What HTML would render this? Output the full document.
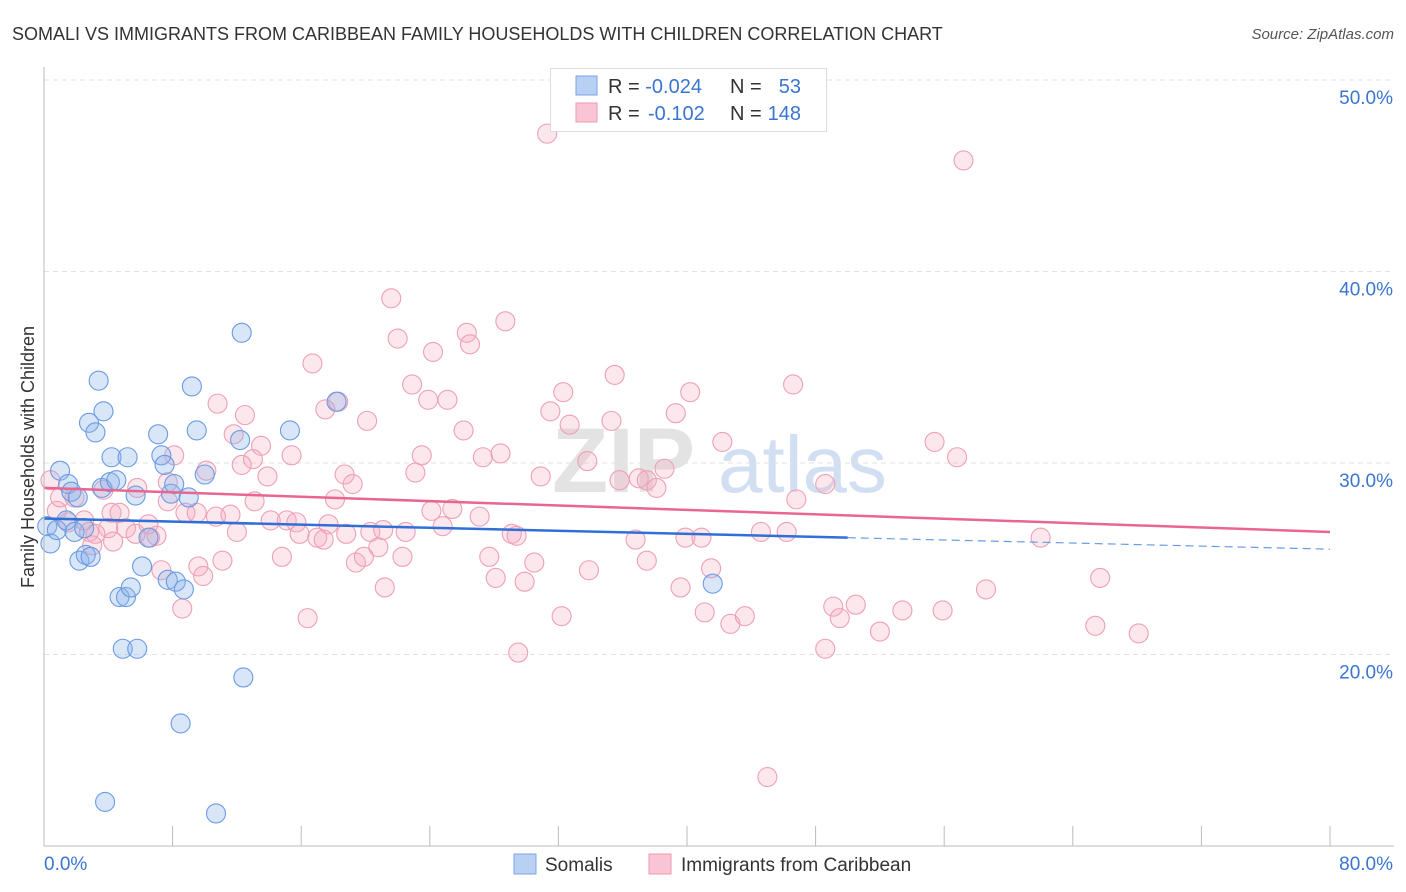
<!DOCTYPE html>
<html><head><meta charset="utf-8">
<style>
body{margin:0;background:#fff;font-family:"Liberation Sans",sans-serif;}
#wrap{position:relative;width:1406px;height:892px;overflow:hidden;}
svg text{font-family:"Liberation Sans",sans-serif;}
</style></head>
<body>
<div id="wrap">
<svg id="chart" width="1406" height="892">
  <text x="12" y="40" font-size="18" fill="#333">SOMALI VS IMMIGRANTS FROM CARIBBEAN FAMILY HOUSEHOLDS WITH CHILDREN CORRELATION CHART</text>
  <text x="1394" y="39" font-size="15" fill="#555" text-anchor="end" font-style="italic">Source: ZipAtlas.com</text>
  <text x="0" y="0" transform="translate(34,457) rotate(-90)" font-size="18" fill="#333" text-anchor="middle">Family Households with Children</text>
  <g>
    <text x="552" y="492" font-size="92" fill="#ddd" font-family="Liberation Serif" font-weight="bold" opacity="0.8">ZIP</text>
    <text x="718" y="492" font-size="80" fill="#c8d8ef" opacity="0.8">atlas</text>
  </g>
  <g id="grid"></g>
  <g id="pts"></g>
  <g id="lines"></g>
  <g id="axes"></g>
  <g>
    <rect x="550.5" y="68.5" width="276" height="63" fill="#fff" stroke="#ddd"/>
    <rect x="576" y="76" width="21" height="19" fill="#b8d0f3" stroke="#7aa5e6"/>
    <rect x="576" y="103" width="21" height="19" fill="#f9c4d3" stroke="#ee9ab0"/>
    <text x="608" y="93" font-size="20" fill="#333">R = <tspan fill="#3a75d0">-0.024</tspan></text>
    <text x="730" y="93" font-size="20" fill="#333">N = </text>
    <text x="801" y="93" font-size="20" fill="#3a75d0" text-anchor="end">53</text>
    <text x="608" y="120" font-size="20" fill="#333">R = </text>
    <text x="648" y="120" font-size="20" fill="#3a75d0">-0.102</text>
    <text x="730" y="120" font-size="20" fill="#333">N = </text>
    <text x="801" y="120" font-size="20" fill="#3a75d0" text-anchor="end">148</text>
  </g>
  <g>
    <rect x="514" y="854" width="22" height="20" fill="#b8d0f3" stroke="#7aa5e6"/>
    <text x="545" y="871" font-size="19" fill="#333">Somalis</text>
    <rect x="649" y="854" width="22" height="20" fill="#f9c4d3" stroke="#ee9ab0"/>
    <text x="681" y="871" font-size="19" fill="#333">Immigrants from Caribbean</text>
  </g>
</svg>
</div>
<script>
const blueX=[0.2,0.4,0.8,1.0,1.4,1.5,1.7,1.9,2.1,2.2,2.5,2.6,2.9,2.8,3.2,3.4,3.7,3.6,4.2,4.1,4.5,4.7,5.1,5.2,5.4,4.9,5.8,5.7,6.1,6.5,7.1,7.3,7.5,7.7,7.9,8.1,8.2,8.7,8.5,9.0,9.2,9.5,10.0,12.2,12.3,12.4,15.3,18.2,3.8,10.7,41.6];
const blueY=[26.7,25.8,26.5,29.6,27.0,28.9,28.5,26.4,28.2,24.9,26.6,25.2,25.1,32.1,31.6,34.3,32.7,28.7,30.3,29.0,29.1,23.0,23.0,30.3,23.5,20.3,20.3,28.3,24.6,26.1,31.5,30.4,29.9,23.9,28.4,28.9,23.8,23.4,16.4,28.2,34.0,31.7,29.4,31.2,36.8,18.8,31.7,33.2,12.3,11.7,23.7];
const pinkX=[31.3,57.2,21.6,22.0,28.7,26.3,26.5,24.2,16.7,22.9,35.5,40.2,46.6,32.3,23.9,25.1,18.3,10.8,12.5,17.5,31.5,39.3,20.1,35.3,32.7,26.1,11.8,42.2,55.4,13.5,15.4,23.5,28.4,27.3,56.8,8.1,13.0,12.3,33.8,38.6,10.1,23.1,18.7,30.9,35.8,37.0,37.5,38.1,7.7,13.9,19.2,5.8,3.7,0.4,1.0,1.9,0.8,48.6,46.8,18.1,13.1,7.7,8.8,9.5,10.7,11.6,4.2,4.7,24.1,25.4,27.1,4.0,5.1,6.5,2.8,3.2,1.5,2.5,6.6,5.7,7.0,14.1,15.1,15.7,12.0,15.9,17.7,17.0,17.4,18.8,20.3,21.1,22.5,24.8,29.1,29.4,36.8,39.9,40.9,44.6,46.2,62.0,3.0,20.8,14.8,27.7,30.5,22.3,37.5,41.5,19.4,19.9,7.3,9.6,11.1,9.9,28.1,29.9,33.9,39.6,58.6,65.7,21.2,8.6,16.4,32.2,41.1,42.7,43.6,49.1,49.5,50.5,53.4,55.9,65.4,68.1,52.0,29.5,48.6,45.0,4.3];
const pinkY=[47.2,45.8,38.6,36.5,37.4,36.8,36.2,35.8,35.2,34.1,34.6,33.7,34.1,33.7,33.3,33.3,33.2,33.1,32.5,32.8,32.7,32.6,32.2,32.2,32.0,31.7,31.5,31.1,31.1,30.9,30.4,30.4,30.5,30.3,30.3,30.4,30.2,29.9,30.1,29.7,29.6,29.5,29.4,29.3,29.1,29.2,29.1,28.7,29.0,29.3,28.9,28.7,28.6,29.1,28.2,28.2,27.5,28.9,28.1,28.1,28.0,28.0,27.4,27.4,27.2,27.3,27.4,27.4,27.5,27.6,27.2,26.6,26.6,26.8,26.4,26.3,26.9,27.0,26.1,26.3,26.2,27.0,27.0,26.9,26.4,26.3,26.8,26.1,26.0,26.3,26.4,26.5,26.4,26.7,26.3,26.2,26.0,26.1,26.1,26.4,26.4,26.1,25.7,25.6,25.1,25.1,24.8,25.1,24.9,24.5,24.8,25.1,24.4,24.6,24.9,24.1,24.0,23.8,24.4,23.5,23.4,24.0,23.5,22.4,21.9,22.0,22.2,21.6,22.0,22.5,21.9,22.6,22.3,22.3,21.5,21.1,21.2,20.1,20.3,13.6,25.9];
const xTicks=[0,80];
const yTicks=[20,30,40,50];
const blueTrend=[27.1,26.1,25.5]; // at x=0, 50, 80
const pinkTrend=[28.7,26.4]; // at x=0, 80

const X=v=>44+v/80*1286;
const Y=v=>846-(v-10)*19.15;
const NS='http://www.w3.org/2000/svg';
function mk(tag,attrs,parent){const e=document.createElementNS(NS,tag);for(const k in attrs)e.setAttribute(k,attrs[k]);parent.appendChild(e);return e;}
const grid=document.getElementById('grid'),axes=document.getElementById('axes'),pts=document.getElementById('pts'),lines=document.getElementById('lines');
yTicks.forEach(t=>{
  const l=mk('line',{x1:44,x2:1394,y1:Y(t),y2:Y(t),stroke:'#e2e2e2','stroke-dasharray':'5,4'},grid);
  
  
  const tx=mk('text',{x:1393,y:Y(t)+24,'font-size':19,fill:'#3a75d0','text-anchor':'end'},axes);
  tx.textContent=t.toFixed(1)+'%';
  
  
});
const ax=mk('line',{x1:44,x2:44,y1:67,y2:846,stroke:'#bbb'},axes);


const bx=mk('line',{x1:44,x2:1394,y1:846,y2:846,stroke:'#bbb'},axes);


for(let i=0;i<=10;i++){
  const tk=mk('line',{x1:X(i*8),x2:X(i*8),y1:826,y2:846,stroke:'#bbb'},axes);
  
  
}
xTicks.forEach((t,i)=>{
  const tx=mk('text',{x:i==0?44:1393,y:870,'font-size':19,fill:'#3a75d0','text-anchor':i==0?'start':'end'},axes);
  tx.textContent=t.toFixed(1)+'%';
  
  
});
pinkX.forEach((v,i)=>{
  const c=mk('circle',{cx:X(v),cy:Y(pinkY[i]),r:9.5,fill:'rgba(246,170,192,0.28)',stroke:'#eea0b6','stroke-width':1.1},pts);
  
  
});
blueX.forEach((v,i)=>{
  const c=mk('circle',{cx:X(v),cy:Y(blueY[i]),r:9.5,fill:'rgba(140,180,235,0.33)',stroke:'#6a9be4','stroke-width':1.1},pts);
  
  
});
const pl=mk('line',{x1:X(0),y1:Y(pinkTrend[0]),x2:X(80),y2:Y(pinkTrend[1]),stroke:'#e8668f','stroke-width':2.5},lines);


const bl=mk('line',{x1:X(0),y1:Y(blueTrend[0]),x2:X(50),y2:Y(blueTrend[1]),stroke:'#2f6fd6','stroke-width':2.5},lines);


const bd=mk('line',{x1:X(50),y1:Y(blueTrend[1]),x2:X(80),y2:Y(blueTrend[2]),stroke:'#6a9be4','stroke-width':1.2,'stroke-dasharray':'8,5'},lines);


</script>
</body></html>
